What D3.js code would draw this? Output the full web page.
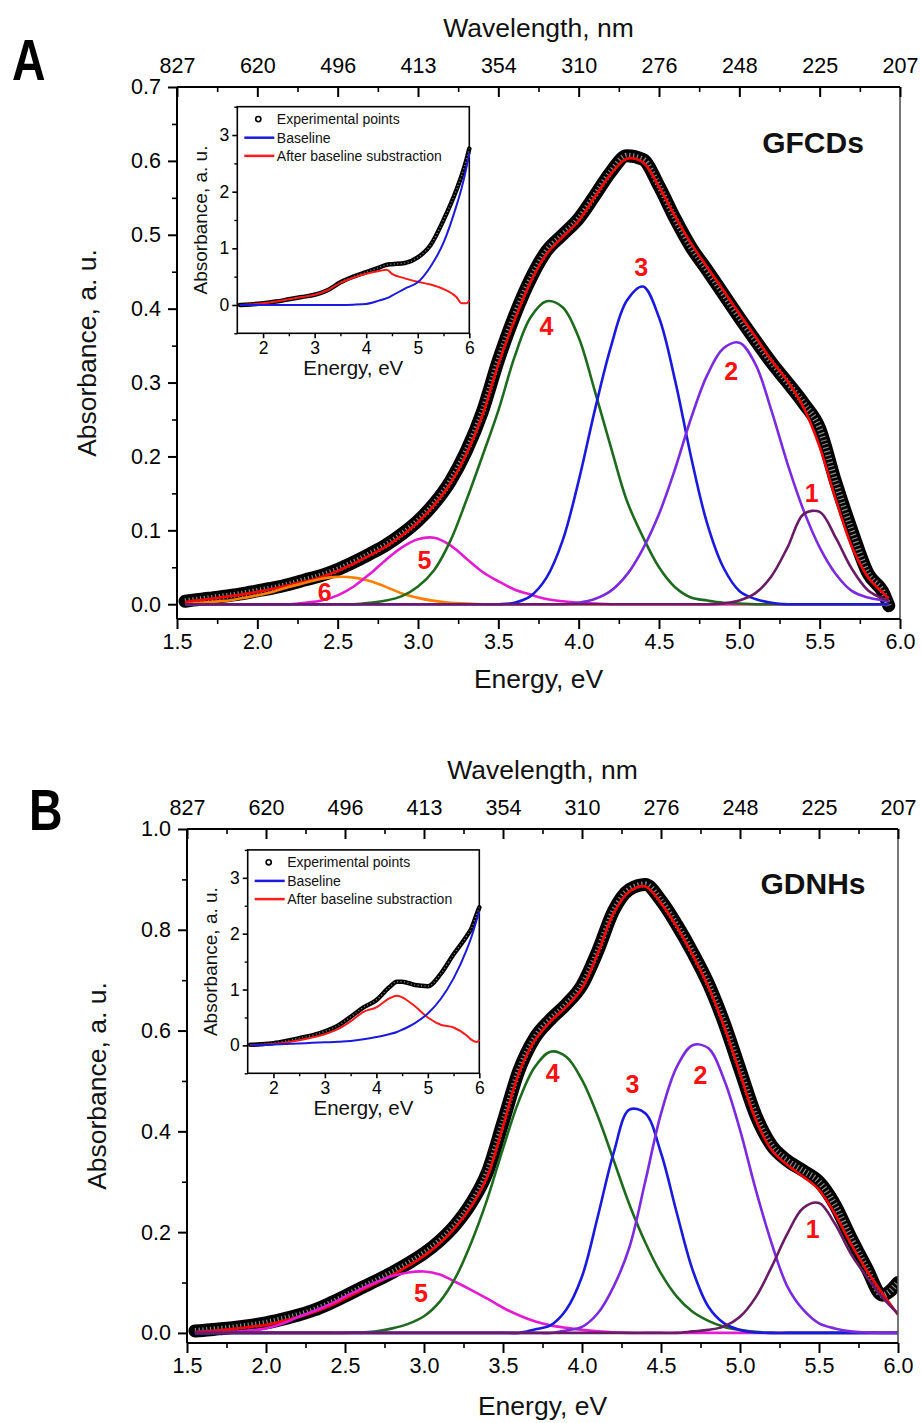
<!DOCTYPE html>
<html><head><meta charset="utf-8">
<script src="https://cdn.jsdelivr.net/npm/d3@7"></script>
<style>
body{margin:0;background:#fff;}
svg{display:block;}
</style></head><body>
<svg id="chart" width="921" height="1423"></svg>
<script>
// ---------------- DATA ----------------
const xTickValues = [1.5, 2.0, 2.5, 3.0, 3.5, 4.0, 4.5, 5.0, 5.5, 6.0];
const wavelengthLabels = ["827", "620", "496", "413", "354", "310", "276", "248", "225", "207"];
const yTicksA = [0.0, 0.1, 0.2, 0.3, 0.4, 0.5, 0.6, 0.7];
const yTicksB = [0.0, 0.2, 0.4, 0.6, 0.8, 1.0];
const insetXTicks = [2, 3, 4, 5, 6];
const insetYTicks = [0, 1, 2, 3];
const legendLabels = ["Experimental points", "Baseline", "After baseline substraction"];

// Panel A (GFCDs)
const energyA = [1.55,1.6,1.7,1.8,1.9,2.0,2.1,2.2,2.3,2.4,2.5,2.6,2.7,2.8,2.9,3.0,3.1,3.2,3.3,3.4,3.5,3.6,3.7,3.8,3.9,4.0,4.1,4.2,4.3,4.4,4.5,4.6,4.7,4.8,4.9,5.0,5.1,5.2,5.3,5.4,5.5,5.6,5.7,5.8,5.9,5.93];
const expA = [0.004,0.0055,0.008,0.011,0.014,0.018,0.022,0.027,0.033,0.039,0.047,0.057,0.068,0.08,0.095,0.113,0.136,0.166,0.207,0.26,0.33,0.39,0.44,0.478,0.5,0.522,0.553,0.585,0.607,0.602,0.566,0.522,0.483,0.452,0.42,0.388,0.357,0.327,0.3,0.272,0.238,0.165,0.1,0.042,0.014,-0.002];
const fitA = [0.003,0.0045,0.007,0.0099,0.013,0.0167,0.021,0.026,0.031,0.037,0.045,0.055,0.066,0.078,0.093,0.111,0.134,0.163,0.203,0.255,0.325,0.384,0.436,0.474,0.497,0.519,0.551,0.582,0.603,0.598,0.565,0.525,0.488,0.456,0.425,0.393,0.362,0.330,0.302,0.266,0.213,0.142,0.078,0.037,0.014,0.008];
const peak1A = [0,0,0,0,0,0,0,0,0,0,0,0,0,0,0,0,0,0,0,0,0,0,0,0,0,0,0,0,0,0,0,0,0,0,0.001,0.005,0.015,0.038,0.077,0.122,0.125,0.09,0.048,0.019,0.007,0.005];
const peak2A = [0,0,0,0,0,0,0,0,0,0,0,0,0,0,0,0,0,0,0,0,0,0,0,0,0,0.002,0.007,0.018,0.04,0.075,0.122,0.183,0.252,0.31,0.346,0.354,0.325,0.262,0.19,0.127,0.077,0.041,0.018,0.009,0.005,0.004];
const peak3A = [0,0,0,0,0,0,0,0,0,0,0,0,0,0,0,0,0,0,0,0,0,0.002,0.011,0.036,0.086,0.167,0.262,0.348,0.411,0.43,0.388,0.303,0.199,0.109,0.05,0.018,0.007,0.002,0,0,0,0,0,0,0,0];
const peak4A = [0,0,0,0,0,0,0,0,0,0,0,0,0.002,0.005,0.011,0.024,0.046,0.085,0.14,0.2,0.262,0.334,0.388,0.41,0.402,0.361,0.289,0.213,0.14,0.091,0.05,0.023,0.009,0.005,0.002,0.001,0,0,0,0,0,0,0,0,0,0];
const peak5A = [0,0,0,0,0,0,0,0,0.002,0.005,0.012,0.024,0.041,0.06,0.077,0.088,0.09,0.08,0.062,0.044,0.031,0.02,0.013,0.007,0.004,0.002,0.001,0,0,0,0,0,0,0,0,0,0,0,0,0,0,0,0,0,0,0];
const peak6A = [0,0.001,0.003,0.0045,0.008,0.012,0.017,0.0235,0.029,0.0345,0.037,0.036,0.0315,0.0235,0.0145,0.0086,0.0045,0.002,0.001,0,0,0,0,0,0,0,0,0,0,0,0,0,0,0,0,0,0,0,0,0,0,0,0,0,0,0];
const peakNamesA = ["1", "2", "3", "4", "5", "6"];
const peakLabelEA = [5.45, 4.95, 4.39, 3.80, 3.04, 2.42];
const peakLabelVA = [0.151, 0.316, 0.457, 0.376, 0.060, 0.017];

// Panel B (GDNHs)
const energyB = [1.55,1.6,1.7,1.8,1.9,2.0,2.1,2.2,2.3,2.4,2.5,2.6,2.7,2.8,2.9,3.0,3.1,3.2,3.3,3.4,3.5,3.6,3.7,3.8,3.9,4.0,4.1,4.2,4.3,4.4,4.5,4.6,4.7,4.8,4.9,5.0,5.1,5.2,5.3,5.4,5.5,5.6,5.7,5.8,5.9,6.0];
const expB = [0.004,0.005,0.008,0.011,0.015,0.02,0.027,0.035,0.045,0.058,0.073,0.089,0.104,0.12,0.138,0.158,0.183,0.215,0.258,0.318,0.418,0.52,0.585,0.622,0.652,0.69,0.758,0.838,0.88,0.89,0.858,0.81,0.755,0.693,0.615,0.523,0.432,0.372,0.342,0.322,0.3,0.255,0.19,0.13,0.075,0.1];
const fitB = [0.002,0.003,0.005,0.008,0.012,0.016,0.023,0.031,0.041,0.053,0.068,0.084,0.099,0.115,0.133,0.153,0.178,0.21,0.252,0.31,0.41,0.515,0.58,0.618,0.647,0.684,0.753,0.833,0.876,0.886,0.853,0.806,0.75,0.687,0.608,0.515,0.423,0.363,0.333,0.31,0.284,0.237,0.178,0.125,0.079,0.036];
const peak1B = [0,0,0,0,0,0,0,0,0,0,0,0,0,0,0,0,0,0,0,0,0,0,0,0,0,0,0,0,0,0,0,0,0.003,0.006,0.013,0.032,0.071,0.131,0.197,0.248,0.258,0.217,0.158,0.112,0.071,0.038];
const peak2B = [0,0,0,0,0,0,0,0,0,0,0,0,0,0,0,0,0,0,0,0,0,0,0,0,0.005,0.012,0.039,0.092,0.17,0.3,0.435,0.528,0.571,0.565,0.502,0.403,0.284,0.178,0.092,0.046,0.019,0.009,0.003,0.001,0,0];
const peak3B = [0,0,0,0,0,0,0,0,0,0,0,0,0,0,0,0,0,0,0,0,0,0,0.007,0.015,0.046,0.112,0.231,0.357,0.443,0.436,0.357,0.238,0.125,0.052,0.019,0.006,0.001,0,0,0,0,0,0,0,0,0];
const peak4B = [0,0,0,0,0,0,0,0,0,0,0,0.001,0.003,0.009,0.018,0.033,0.062,0.11,0.18,0.265,0.366,0.46,0.527,0.558,0.548,0.502,0.43,0.343,0.255,0.18,0.118,0.072,0.042,0.024,0.012,0.006,0.002,0,0,0,0,0,0,0,0,0];
const peak5B = [0,0,0.001,0.002,0.005,0.009,0.018,0.031,0.043,0.056,0.072,0.087,0.101,0.113,0.12,0.122,0.116,0.101,0.085,0.068,0.05,0.035,0.023,0.015,0.01,0.006,0.003,0.001,0,0,0,0,0,0,0,0,0,0,0,0,0,0,0,0,0,0];
const peakNamesB = ["1", "2", "3", "4", "5"];
const peakLabelEB = [5.46, 4.75, 4.32, 3.815, 2.98];
const peakLabelVB = [0.206, 0.512, 0.494, 0.515, 0.080];

// Insets (full spectra)
const insetEnergy = [1.55,1.75,2.0,2.25,2.5,2.75,3.0,3.25,3.5,3.75,4.0,4.25,4.4,4.5,4.75,5.0,5.25,5.5,5.75,5.85,5.95,6.0];
const insetExpA = [0,0.01,0.03,0.06,0.1,0.14,0.18,0.26,0.4,0.5,0.58,0.66,0.71,0.72,0.74,0.84,1.06,1.5,2.03,2.28,2.58,2.76];
const insetBaseA = [0,0,0,0,0,0,0,0,0,0.005,0.018,0.077,0.12,0.165,0.29,0.4,0.68,1.1,1.75,2.06,2.45,2.68];
const insetRedA = [0,0.01,0.03,0.06,0.1,0.14,0.18,0.26,0.39,0.48,0.55,0.6,0.62,0.55,0.47,0.41,0.36,0.28,0.14,0.03,0.03,0.09];
const insetExpB = [0.01,0.02,0.04,0.08,0.13,0.18,0.25,0.35,0.51,0.68,0.81,1.04,1.14,1.14,1.08,1.06,1.28,1.63,1.95,2.1,2.35,2.47];
const insetBaseB = [0,0.005,0.015,0.025,0.035,0.045,0.055,0.065,0.08,0.11,0.15,0.2,0.24,0.28,0.4,0.57,0.83,1.2,1.7,1.95,2.25,2.4];
const insetRedB = [0,0.01,0.025,0.05,0.09,0.14,0.2,0.29,0.43,0.6,0.68,0.84,0.89,0.86,0.7,0.5,0.37,0.32,0.18,0.1,0.06,0.1];

// ---------------- DRAWING ----------------
const FONT = '"Liberation Sans", Arial, Helvetica, sans-serif';
const peakColors = {"1": "#6a1b66", "2": "#7b2ae0", "3": "#1a1ade", "4": "#1e6b1e", "5": "#e51ad3", "6": "#ff8000"};
const svg = d3.select("#chart").attr("font-family", FONT);
const smooth = d3.curveCatmullRom.alpha(0.5);

function styleAxis(sel, fontSize, width) {
  sel.select(".domain").remove();
  sel.selectAll("line").attr("stroke", "#000").attr("stroke-width", width);
  sel.selectAll("text").attr("fill", "#000").attr("font-size", fontSize).attr("font-family", FONT);
  sel.attr("font-size", fontSize).attr("font-family", FONT);
}

function drawMain(cfg) {
  const g = svg.append("g");
  const x = d3.scaleLinear().domain([1.5, 6.0]).range([cfg.left, cfg.right]);
  const y = d3.scaleLinear().domain(cfg.yDomain).range([cfg.bottom, cfg.top]);
  const clipId = "clip" + cfg.id;
  svg.append("clipPath").attr("id", clipId).append("rect")
    .attr("x", cfg.left).attr("y", cfg.top).attr("width", cfg.right - cfg.left).attr("height", cfg.bottom - cfg.top);
  const lineGen = (ys, curve) => d3.line().x((d, i) => x(cfg.energy[i])).y(d => y(d)).curve(curve)(ys);
  const dg = g.append("g").attr("clip-path", `url(#${clipId})`);
  // experimental points (dense hollow circles -> thick band)
  dg.append("path").attr("d", lineGen(cfg.exp, d3.curveMonotoneX)).attr("fill", "none").attr("stroke", "#000")
    .attr("stroke-width", 13).attr("stroke-linejoin", "round").attr("stroke-linecap", "round");
  dg.append("path").attr("d", lineGen(cfg.exp, d3.curveMonotoneX)).attr("fill", "none").attr("stroke", "#fff")
    .attr("stroke-width", 6).attr("stroke-dasharray", "1.2 2.6").attr("opacity", 0.55);
  // fit
  dg.append("path").attr("d", lineGen(cfg.fit, smooth)).attr("fill", "none").attr("stroke", "#ff0000").attr("stroke-width", 2.6);
  // components
  cfg.peaks.slice().reverse().forEach(p => {
    dg.append("path").attr("d", lineGen(p.values, smooth)).attr("fill", "none")
      .attr("stroke", peakColors[p.name]).attr("stroke-width", 2.6);
  });
  // peak labels
  cfg.labelNames.forEach((n, i) => {
    g.append("text").attr("x", x(cfg.labelE[i])).attr("y", y(cfg.labelV[i]))
      .attr("text-anchor", "middle").attr("dominant-baseline", "central")
      .attr("font-size", 25).attr("font-weight", "bold").attr("fill", "#ff1010").text(n);
  });
  // frame
  g.append("line").attr("x1", cfg.right).attr("x2", cfg.right).attr("y1", cfg.top).attr("y2", cfg.bottom).attr("stroke", "#555").attr("stroke-width", 1.6);
  g.append("line").attr("x1", cfg.left).attr("x2", cfg.right).attr("y1", cfg.top).attr("y2", cfg.top).attr("stroke", "#000").attr("stroke-width", 2);
  g.append("line").attr("x1", cfg.left).attr("x2", cfg.right).attr("y1", cfg.bottom).attr("y2", cfg.bottom).attr("stroke", "#000").attr("stroke-width", 2);
  g.append("line").attr("x1", cfg.left).attr("x2", cfg.left).attr("y1", cfg.top).attr("y2", cfg.bottom).attr("stroke", "#000").attr("stroke-width", 2);

  const xMinor = d3.range(1.75, 6.0, 0.5);
  g.append("g").attr("transform", `translate(0,${cfg.bottom})`)
    .call(d3.axisBottom(x).tickValues(xTickValues).tickFormat(d3.format(".1f")).tickSizeInner(10).tickSizeOuter(0).tickPadding(5))
    .call(s => styleAxis(s, 21.5, 2));
  g.append("g").attr("transform", `translate(0,${cfg.bottom})`)
    .call(d3.axisBottom(x).tickValues(xMinor).tickFormat("").tickSizeInner(5).tickSizeOuter(0))
    .call(s => styleAxis(s, 21.5, 1.6));
  g.append("g").attr("transform", `translate(0,${cfg.top})`)
    .call(d3.axisTop(x).tickValues(xTickValues).tickFormat((d, i) => wavelengthLabels[i]).tickSizeInner(-10).tickSizeOuter(0).tickPadding(14))
    .call(s => styleAxis(s, 21.5, 2));
  g.append("g").attr("transform", `translate(0,${cfg.top})`)
    .call(d3.axisTop(x).tickValues(xMinor).tickFormat("").tickSizeInner(-5).tickSizeOuter(0))
    .call(s => styleAxis(s, 21.5, 1.6));
  g.append("g").attr("transform", `translate(${cfg.left},0)`)
    .call(d3.axisLeft(y).tickValues(cfg.yTicks).tickFormat(d3.format(".1f")).tickSizeInner(9).tickSizeOuter(0).tickPadding(7))
    .call(s => styleAxis(s, 21.5, 2));
  g.append("g").attr("transform", `translate(${cfg.left},0)`)
    .call(d3.axisLeft(y).tickValues(cfg.yMinor).tickFormat("").tickSizeInner(5).tickSizeOuter(0))
    .call(s => styleAxis(s, 21.5, 1.6));

  const cx = (cfg.left + cfg.right) / 2;
  g.append("text").attr("x", cx).attr("y", cfg.top - 50).attr("text-anchor", "middle").attr("font-size", 26.5).attr("fill", "#111").text("Wavelength, nm");
  g.append("text").attr("x", cx).attr("y", cfg.energyTitleY).attr("text-anchor", "middle").attr("font-size", 26.5).attr("fill", "#111").text("Energy, eV");
  g.append("text").attr("transform", `translate(${cfg.left - 90},${(cfg.top + cfg.bottom) / 2}) rotate(-90)`)
    .attr("text-anchor", "middle").attr("dominant-baseline", "central").attr("font-size", 26.5).attr("fill", "#111").text("Absorbance, a. u.");
  g.append("text").attr("x", cfg.nameX).attr("y", cfg.nameY).attr("text-anchor", "middle").attr("dominant-baseline", "central")
    .attr("font-size", 30).attr("font-weight", "bold").attr("fill", "#111").text(cfg.name);
  g.append("text").attr("transform", `translate(${cfg.letterX},${cfg.letterY}) scale(0.8,1)`)
    .attr("font-size", 58).attr("font-weight", "bold").attr("fill", "#000").text(cfg.letter);
  return {x, y};
}

function drawInset(cfg) {
  const g = svg.append("g");
  const x = d3.scaleLinear().domain([1.5, 6.0]).range([cfg.left, cfg.right]);
  const y = d3.scaleLinear().domain([-0.5, 3.5]).range([cfg.bottom, cfg.top]);
  g.append("rect").attr("x", cfg.left).attr("y", cfg.top).attr("width", cfg.right - cfg.left).attr("height", cfg.bottom - cfg.top)
    .attr("fill", "#fff").attr("stroke", "#000").attr("stroke-width", 1.6);
  const lineGen = (ys) => d3.line().x((d, i) => x(insetEnergy[i])).y(d => y(d)).curve(d3.curveMonotoneX)(ys);
  g.append("path").attr("d", lineGen(cfg.exp)).attr("fill", "none").attr("stroke", "#000").attr("stroke-width", 4.5).attr("stroke-linecap", "round");
  g.append("path").attr("d", lineGen(cfg.exp)).attr("fill", "none").attr("stroke", "#fff").attr("stroke-width", 1.5).attr("stroke-dasharray", "1 2.5").attr("opacity", 0.5);
  g.append("path").attr("d", lineGen(cfg.red)).attr("fill", "none").attr("stroke", "#ff1a1a").attr("stroke-width", 2);
  g.append("path").attr("d", lineGen(cfg.base)).attr("fill", "none").attr("stroke", "#1a1ade").attr("stroke-width", 2);

  g.append("g").attr("transform", `translate(0,${cfg.bottom})`)
    .call(d3.axisBottom(x).tickValues(insetXTicks).tickFormat(d3.format("d")).tickSizeInner(5).tickSizeOuter(0).tickPadding(3.6))
    .call(s => styleAxis(s, 17.5, 1.6));
  g.append("g").attr("transform", `translate(0,${cfg.bottom})`)
    .call(d3.axisBottom(x).tickValues(d3.range(2.5, 6, 1)).tickFormat("").tickSizeInner(3).tickSizeOuter(0))
    .call(s => styleAxis(s, 17.5, 1.4));
  g.append("g").attr("transform", `translate(${cfg.left},0)`)
    .call(d3.axisLeft(y).tickValues(insetYTicks).tickFormat(d3.format("d")).tickSizeInner(5).tickSizeOuter(0).tickPadding(3))
    .call(s => styleAxis(s, 17.5, 1.6));
  g.append("g").attr("transform", `translate(${cfg.left},0)`)
    .call(d3.axisLeft(y).tickValues(d3.range(-0.5, 3.6, 1)).tickFormat("").tickSizeInner(3).tickSizeOuter(0))
    .call(s => styleAxis(s, 17.5, 1.4));

  g.append("text").attr("x", (cfg.left + cfg.right) / 2).attr("y", cfg.bottom + 42).attr("text-anchor", "middle").attr("font-size", 20.5).attr("fill", "#111").text("Energy, eV");
  g.append("text").attr("transform", `translate(${cfg.left - 37},${(cfg.top + cfg.bottom) / 2}) rotate(-90)`)
    .attr("text-anchor", "middle").attr("dominant-baseline", "central").attr("font-size", 19).attr("fill", "#111").text("Absorbance, a. u.");

  const rows = [12.4, 31, 49.2];
  const lc = ["#000", "#1a1ade", "#ff1a1a"];
  rows.forEach((r, i) => {
    const yy = cfg.top + r;
    if (i === 0) {
      g.append("circle").attr("cx", cfg.left + 21).attr("cy", yy).attr("r", 2.6).attr("fill", "#fff").attr("stroke", "#000").attr("stroke-width", 1.6);
    } else {
      g.append("line").attr("x1", cfg.left + 7).attr("x2", cfg.left + 37).attr("y1", yy).attr("y2", yy).attr("stroke", lc[i]).attr("stroke-width", 2.5);
    }
    g.append("text").attr("x", cfg.left + 39.5).attr("y", yy).attr("dominant-baseline", "central").attr("font-size", 14).attr("fill", "#111").text(legendLabels[i]);
  });
}

drawMain({
  id: "A", left: 177, right: 900, top: 87, bottom: 619, yDomain: [-0.02, 0.7],
  yTicks: yTicksA, yMinor: d3.range(0.05, 0.7, 0.1),
  energy: energyA, exp: expA, fit: fitA,
  peaks: [peak1A, peak2A, peak3A, peak4A, peak5A, peak6A].map((v, i) => ({name: peakNamesA[i], values: v})),
  labelNames: peakNamesA, labelE: peakLabelEA, labelV: peakLabelVA,
  energyTitleY: 688, name: "GFCDs", nameX: 813, nameY: 142, letter: "A", letterX: 12, letterY: 80
});
drawInset({left: 237.3, right: 469.3, top: 106.7, bottom: 333.3, exp: insetExpA, base: insetBaseA, red: insetRedA});

drawMain({
  id: "B", left: 187, right: 898, top: 829, bottom: 1343, yDomain: [-0.02, 1.0],
  yTicks: yTicksB, yMinor: d3.range(0.1, 1.0, 0.2),
  energy: energyB, exp: expB, fit: fitB,
  peaks: [peak1B, peak2B, peak3B, peak4B, peak5B].map((v, i) => ({name: peakNamesB[i], values: v})),
  labelNames: peakNamesB, labelE: peakLabelEB, labelV: peakLabelVB,
  energyTitleY: 1415, name: "GDNHs", nameX: 813, nameY: 883, letter: "B", letterX: 29, letterY: 830
});
drawInset({left: 247.7, right: 479.3, top: 849.9, bottom: 1073.3, exp: insetExpB, base: insetBaseB, red: insetRedB});
</script>
</body></html>
